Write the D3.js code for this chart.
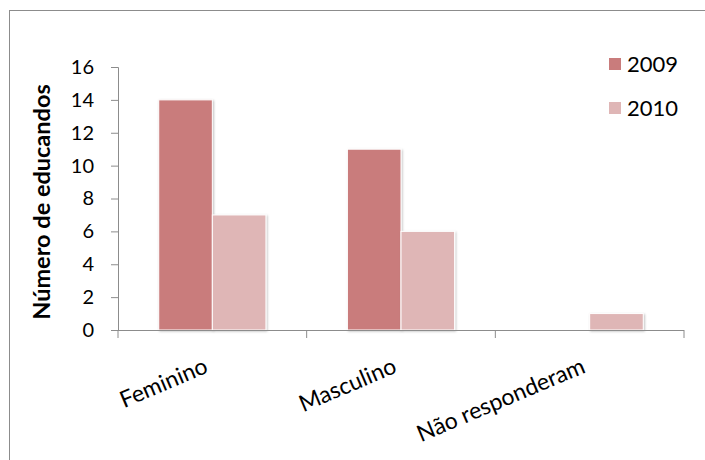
<!DOCTYPE html>
<html><head><meta charset="utf-8">
<script src="https://cdn.jsdelivr.net/npm/d3@7"></script>
<style>body{margin:0;background:#fff}svg{display:block}text{font-family:Lato,"Open Sans",sans-serif}</style>
</head><body>
<script>
const categories = ["Feminino", "Masculino", "Não responderam"];
const series = ["2009", "2010"];
const values2009 = [14, 11, 0];
const values2010 = [7, 6, 1];
const yTicks = [0, 2, 4, 6, 8, 10, 12, 14, 16];
const colors = ["#C97C7C", "#DFB6B6"];

const W = 705, H = 460;
const svg = d3.select("body").append("svg").attr("width", W).attr("height", H);
svg.append("rect").attr("x", 9.5).attr("y", 10.5).attr("width", 720).attr("height", 470)
  .attr("fill", "#fff").attr("stroke", "#8c8c8c");

const defs = svg.append("defs");
const f = defs.append("filter").attr("id", "sh").attr("x", "-10%").attr("y", "-10%").attr("width", "130%").attr("height", "130%");
f.append("feDropShadow").attr("dx", 1).attr("dy", 1).attr("stdDeviation", 1.2).attr("flood-color", "#000").attr("flood-opacity", 0.25);

const x0 = d3.scaleBand().domain(categories).range([118, 684]);
const x1 = d3.scaleBand().domain(series).range([0, x0.bandwidth()]).paddingOuter(0.76).paddingInner(0);
const y = d3.scaleLinear().domain([0, 16]).range([330, 67]);

const data = categories.map((c, i) => ({cat: c, vals: [values2009[i], values2010[i]]}));
const g = svg.append("g");
data.forEach(d => {
  d.vals.forEach((v, j) => {
    if (v <= 0) return;
    g.append("rect")
      .attr("x", x0(d.cat) + x1(series[j]))
      .attr("y", y(v))
      .attr("width", x1.bandwidth())
      .attr("height", y(0) - y(v))
      .attr("fill", colors[j])
      .attr("stroke", "#fff").attr("stroke-width", 1)
      .attr("filter", "url(#sh)");
  });
});

// Y axis
const ya = svg.append("g").attr("transform", "translate(118,0)")
  .call(d3.axisLeft(y).tickValues(yTicks).tickSize(7).tickPadding(17).tickFormat(d3.format("d")));
ya.select(".domain").attr("stroke", "#8c8c8c").attr("d", "M-7,67.5H0.5V330");
ya.selectAll(".tick line").attr("stroke", "#8c8c8c");
ya.selectAll("text").attr("font-size", 20).attr("fill", "#000").attr("font-family", "Lato,sans-serif");

// X axis
const xa = svg.append("g").attr("transform", "translate(0,330)");
xa.append("line").attr("x1", 118).attr("x2", 684).attr("y1", 0.5).attr("y2", 0.5).attr("stroke", "#8c8c8c");
const bounds = [...categories.map(c => x0(c)), x0(categories[categories.length - 1]) + x0.bandwidth()];
bounds.forEach(b => xa.append("line").attr("x1", b).attr("x2", b).attr("y1", 0).attr("y2", 8).attr("stroke", "#8c8c8c"));
categories.forEach(c => {
  const cx = x0(c) + x0.bandwidth() / 2 - 3;
  xa.append("text").attr("transform", `translate(${cx},42) rotate(-23)`)
    .attr("text-anchor", "end").attr("font-size", 23).attr("fill", "#000").text(c);
});

// Y label
svg.append("text").attr("transform", "translate(50,202) rotate(-90)")
  .attr("text-anchor", "middle").attr("font-size", 23.5).attr("font-weight", "bold").text("Número de educandos");

// Legend
series.forEach((s, i) => {
  const ly = 64 + i * 44;
  svg.append("rect").attr("x", 609).attr("y", ly - 6).attr("width", 12).attr("height", 12).attr("fill", colors[i]);
  svg.append("text").attr("x", 627).attr("y", ly + 8).attr("font-size", 22).text(s);
});
</script>
</body></html>
